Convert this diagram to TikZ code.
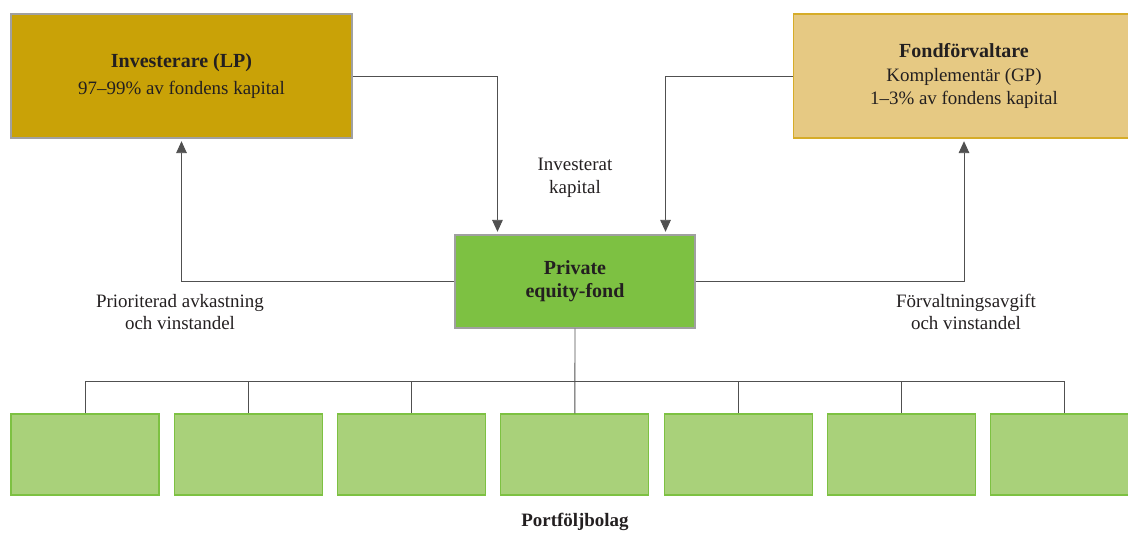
\documentclass[tikz,border=0pt]{standalone}
\usepackage{fontspec}
\setmainfont{Liberation Serif}
\usetikzlibrary{calc, positioning, arrows.meta}
\definecolor{lpGold}{RGB}{201,162,7}
\definecolor{gpSand}{RGB}{230,201,131}
\definecolor{gpEdge}{RGB}{214,172,40}
\definecolor{peGreen}{RGB}{125,193,66}
\definecolor{pfGreen}{RGB}{169,209,122}
\definecolor{boxEdge}{RGB}{160,160,160}
\definecolor{inkDark}{RGB}{35,31,32}
\definecolor{wire}{RGB}{80,80,80}

\begin{document}
\begin{tikzpicture}[x=0.75pt, y=-0.75pt,
  every node/.style={text=inkDark, font=\fontsize{14.2}{16.8}\selectfont, align=center},
  actor/.style={draw, line width=0.8pt, minimum width=341*0.75pt, minimum height=124*0.75pt, inner sep=0pt},
  fundbox/.style={draw=boxEdge, fill=peGreen, line width=0.8pt, minimum width=240*0.75pt, minimum height=93*0.75pt, inner sep=0pt},
  holding/.style={draw=peGreen, fill=pfGreen, line width=0.8pt, minimum width=148*0.75pt, minimum height=81*0.75pt, inner sep=0pt},
  flow/.style={draw=wire, line width=0.7pt, -{Triangle[length=9pt, width=8pt]}, shorten >=2pt},
  link/.style={draw=wire, line width=0.7pt}]
  \useasboundingbox (0,0) rectangle (1128,533);
  % the three parties
  \node[actor, draw=boxEdge, fill=lpGold] (lp) at (181.5,76)
    {\fontsize{15}{18}\selectfont\textbf{Investerare (LP)}\\[3pt]97--99\% av fondens kapital};
  \node[actor, draw=gpEdge, fill=gpSand] (gp) at (964,76)
    {\fontsize{15}{18}\selectfont\textbf{Fondförvaltare}\\[1pt]Komplementär (GP)\\1--3\% av fondens kapital};
  \node[fundbox, font=\bfseries\fontsize{15}{17}\selectfont] (pe) at (575,281.5)
    {Private\\equity-fond};
  % capital into the fund
  \draw[flow] (lp.east) -| ($(pe.north west)+(43,0)$);
  \draw[flow] (gp.west) -| ($(pe.north east)+(-30,0)$);
  \node (cap) at (575,178) {Investerat\\kapital};
  % returns and fees
  \draw[flow] (pe.west) -| (lp.south);
  \draw[flow] (pe.east) -| (gp.south);
  \node (ret) at (180,312) {Prioriterad avkastning\\och vinstandel};
  \node (fee) at (966,312) {Förvaltningsavgift\\och vinstandel};
  % portfolio companies
  \foreach \i in {1,...,7}
    \node[holding] (p\i) at ({85+163.3*(\i-1)},454.5) {};
  \draw[link] (p1.north) -- ++(0,-32) -| (p7.north);
  \foreach \i in {2,3,5,6}
    \draw[link] (p\i.north) -- +(0,-32);
  \draw[link] (pe.south) -- (p4.north);
  \node[font=\bfseries\fontsize{14.2}{16.8}\selectfont] (pf) at (575,522) {Portföljbolag};
\end{tikzpicture}
\end{document}
